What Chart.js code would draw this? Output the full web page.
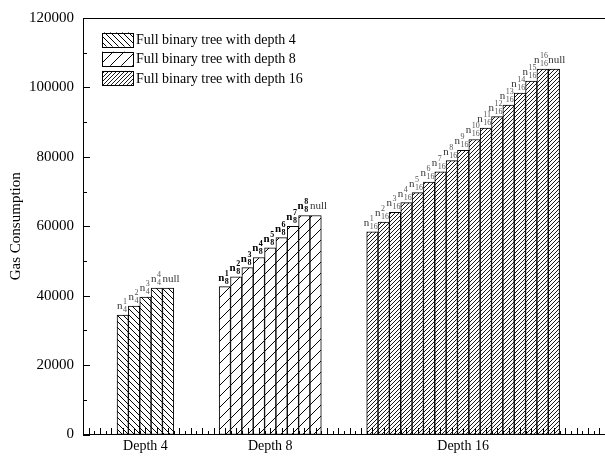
<!DOCTYPE html>
<html lang="en">
<head>
    <meta charset="UTF-8">
    <title>Gas Consumption</title>
    <style>
        body {
            margin: 0;
            padding: 0;
            background-color: #fff;
        }
    </style>
    <script src="https://cdn.jsdelivr.net/npm/chart.js"></script>
</head>
<body>
    <canvas id="gasChart" width="605" height="458"></canvas>
    <script>
        // Values
        const groupNames = ['Depth 4', 'Depth 8', 'Depth 16'];
        const seriesNames = ['Full binary tree with depth 4', 'Full binary tree with depth 8', 'Full binary tree with depth 16'];

        const depth4Labels = ['n_4^1', 'n_4^2', 'n_4^3', 'n_4^4', 'null'];
        const depth4Values = [34400, 37000, 39600, 42200, 42200];

        const depth8Labels = ['n_8^1', 'n_8^2', 'n_8^3', 'n_8^4', 'n_8^5', 'n_8^6', 'n_8^7', 'n_8^8', 'null'];
        const depth8Values = [42600, 45400, 48100, 51000, 53800, 56700, 60000, 63100, 63100];

        const depth16Labels = ['n_16^1', 'n_16^2', 'n_16^3', 'n_16^4', 'n_16^5', 'n_16^6', 'n_16^7', 'n_16^8',
            'n_16^9', 'n_16^10', 'n_16^11', 'n_16^12', 'n_16^13', 'n_16^14', 'n_16^15', 'n_16^16', 'null'];
        const depth16Values = [58400, 61200, 64000, 66800, 69700, 72700, 75700, 78900,
            81900, 85000, 88300, 91600, 94900, 98400, 101800, 105300, 105300];

        const yTicks = [0, 20000, 40000, 60000, 80000, 100000, 120000];

        // empty slots before, between and after the groups
        const GAP_START = 3, GAP_BETWEEN = 4, GAP_END = 4;

        Chart.defaults.font.family = '"Liberation Serif", "Times New Roman", serif';
        Chart.defaults.color = '#000';

        function hatch(size, dir, lineWidth) {
            const c = document.createElement('canvas');
            c.width = size;
            c.height = size;
            const ctx = c.getContext('2d');
            ctx.fillStyle = '#fff';
            ctx.fillRect(0, 0, size, size);
            ctx.strokeStyle = '#000';
            ctx.lineWidth = lineWidth;
            ctx.beginPath();
            if (dir === '/') {
                ctx.moveTo(-1, size + 1); ctx.lineTo(size + 1, -1);
                ctx.moveTo(-1, 1); ctx.lineTo(1, -1);
                ctx.moveTo(size - 1, size + 1); ctx.lineTo(size + 1, size - 1);
            } else {
                ctx.moveTo(-1, -1); ctx.lineTo(size + 1, size + 1);
                ctx.moveTo(size - 1, -1); ctx.lineTo(size + 1, 1);
                ctx.moveTo(-1, size - 1); ctx.lineTo(1, size + 1);
            }
            ctx.stroke();
            return ctx.createPattern(c, 'repeat');
        }

        // lay the three groups out on one category axis
        const groups = [
            { values: depth4Values, labels: depth4Labels },
            { values: depth8Values, labels: depth8Labels },
            { values: depth16Values, labels: depth16Labels }
        ];
        const slotCount = GAP_START + groups.reduce((s, g) => s + g.values.length, 0)
            + GAP_BETWEEN * (groups.length - 1) + GAP_END;
        const slots = [];
        const slotGroupName = new Array(slotCount).fill('');
        const seriesData = groups.map(() => new Array(slotCount).fill(null));
        const seriesNodes = groups.map(() => new Array(slotCount).fill(null));
        for (let i = 0; i < slotCount; i++) slots.push('s' + i);
        let pos = GAP_START;
        groups.forEach((g, gi) => {
            g.values.forEach((v, j) => {
                seriesData[gi][pos + j] = v;
                seriesNodes[gi][pos + j] = g.labels[j];
            });
            slotGroupName[pos + Math.floor(g.values.length / 2)] = groupNames[gi];
            pos += g.values.length + GAP_BETWEEN;
        });

        const patterns = [hatch(6, '\\', 1), hatch(11, '/', 1), hatch(4, '/', 0.9)];
        const labelShift = [0, -1, -3];

        const datasets = groups.map((g, gi) => ({
            label: seriesNames[gi],
            data: seriesData[gi],
            backgroundColor: patterns[gi],
            borderColor: '#000',
            borderWidth: 1,
            borderSkipped: false,
            grouped: false,
            barPercentage: 1,
            categoryPercentage: 1
        }));

        // n with super/subscript above each bar
        const nodeLabels = {
            id: 'nodeLabels',
            afterDatasetsDraw(chart) {
                const ctx = chart.ctx;
                ctx.save();
                ctx.textBaseline = 'alphabetic';
                ctx.textAlign = 'left';
                chart.data.datasets.forEach((ds, di) => {
                    const meta = chart.getDatasetMeta(di);
                    meta.data.forEach((bar, j) => {
                        const text = seriesNodes[di][j];
                        if (!text) return;
                        const left = bar.x - bar.width / 2;
                        const base = bar.y - 6;
                        const bold = di === 1 ? 'bold ' : '';
                        if (text === 'null') {
                            ctx.fillStyle = '#333';
                            ctx.font = '11px "Liberation Serif"';
                            ctx.fillText('null', left, base);
                            return;
                        }
                        const m = text.match(/^n_(\d+)\^(\d+)$/);
                        const x = left + labelShift[di];
                        ctx.fillStyle = di === 1 ? '#000' : '#333';
                        ctx.font = bold + '11px "Liberation Serif"';
                        ctx.fillText('n', x, base);
                        const nx = x + ctx.measureText('n').width + 0.5;
                        ctx.fillStyle = di === 1 ? '#000' : '#555';
                        ctx.font = bold + '8px "Liberation Serif"';
                        ctx.fillText(m[2], nx, base - 5);
                        ctx.fillText(m[1], nx, base + 3);
                    });
                });
                ctx.restore();
            }
        };

        // inward tick marks, top frame line and the legend
        const frame = {
            id: 'frame',
            afterDraw(chart) {
                const ctx = chart.ctx;
                const area = chart.chartArea;
                const x = chart.scales.x;
                const y = chart.scales.y;
                ctx.save();
                ctx.strokeStyle = '#000';
                ctx.lineWidth = 1;
                ctx.beginPath();
                for (let v = 0; v <= slotCount - 0.5; v += 0.5) {
                    const px = Math.round(x.getPixelForValue(v)) + 0.5;
                    const len = Number.isInteger(v) ? 6.5 : 3.5;
                    ctx.moveTo(px, area.bottom);
                    ctx.lineTo(px, area.bottom - len);
                }
                for (let v = 0; v <= y.max; v += 10000) {
                    const py = Math.round(y.getPixelForValue(v)) + 0.5;
                    const len = v % 20000 === 0 ? 7 : 4;
                    ctx.moveTo(area.left, py);
                    ctx.lineTo(area.left + len, py);
                }
                ctx.moveTo(area.left, Math.round(area.top) + 0.5);
                ctx.lineTo(chart.width, Math.round(area.top) + 0.5);
                ctx.stroke();

                // legend
                const boxX = 102, boxW = 31, boxH = 14;
                ctx.font = '14px "Liberation Serif"';
                ctx.textBaseline = 'middle';
                ctx.fillStyle = '#000';
                chart.data.datasets.forEach((ds, i) => {
                    const top = 32.5 + i * 19.2;
                    ctx.fillStyle = ds.backgroundColor;
                    ctx.fillRect(boxX, top, boxW, boxH);
                    ctx.strokeRect(boxX + 0.5, Math.round(top) + 0.5, boxW, boxH);
                    ctx.fillStyle = '#000';
                    ctx.fillText(ds.label, boxX + boxW + 3, top + boxH / 2 + 1);
                });
                ctx.restore();
            }
        };

        new Chart(document.getElementById('gasChart'), {
            type: 'bar',
            data: {
                labels: slots,
                datasets: datasets
            },
            options: {
                responsive: false,
                animation: false,
                layout: {
                    padding: { top: 13, right: 0, bottom: 0, left: 0 }
                },
                plugins: {
                    legend: { display: false },
                    tooltip: { enabled: false }
                },
                scales: {
                    x: {
                        grid: { display: false, drawTicks: false },
                        border: { color: '#000', width: 1 },
                        ticks: {
                            autoSkip: false,
                            maxRotation: 0,
                            padding: 3,
                            font: { size: 14 },
                            callback: (value, index) => slotGroupName[index]
                        },
                        afterFit: (scale) => { scale.height = 23.5; }
                    },
                    y: {
                        min: 0,
                        max: 120000,
                        afterBuildTicks: (scale) => { scale.ticks = yTicks.map(v => ({ value: v })); },
                        grid: { display: false, drawTicks: false },
                        border: { color: '#000', width: 1 },
                        ticks: {
                            padding: 9,
                            font: { size: 15 },
                            callback: (value) => String(value)
                        },
                        title: {
                            display: true,
                            text: 'Gas Consumption',
                            font: { size: 15 },
                            padding: { top: 7, bottom: 0 }
                        },
                        afterFit: (scale) => { scale.width = 83; }
                    }
                }
            },
            plugins: [nodeLabels, frame]
        });
    </script>
</body>
</html>
